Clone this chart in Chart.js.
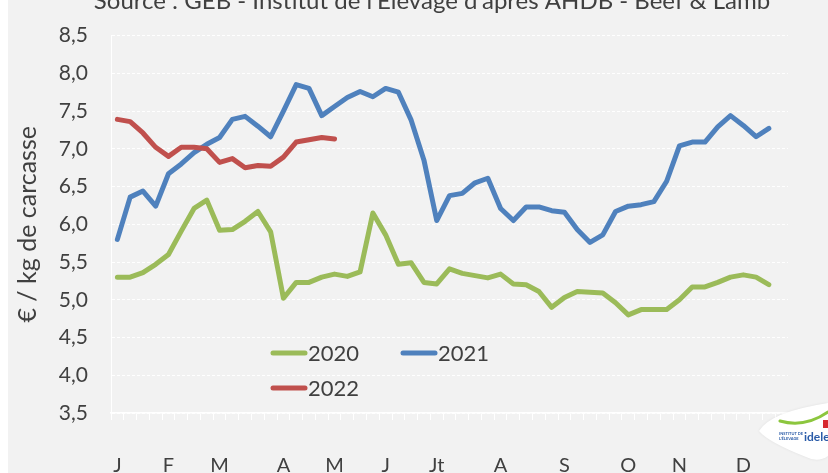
<!DOCTYPE html>
<html>
<head>
<meta charset="utf-8">
<script src="https://cdn.jsdelivr.net/npm/chart.js@4.4.0/dist/chart.umd.min.js"></script>
<style>
  html, body { margin: 0; padding: 0; background: #ffffff; }
  #wrap { position: relative; width: 828px; height: 473px; }
</style>
</head>
<body>
<div id="wrap"><canvas id="chart" width="828" height="473"></canvas></div>
<script>
// weekly prices, € / kg de carcasse
const weekCount = 53;
const monthLabels = ['J', 'F', 'M', 'A', 'M', 'J', 'Jt', 'A', 'S', 'O', 'N', 'D'];
const monthWeeks = [0, 4, 8, 13, 17, 21, 25, 30, 35, 40, 44, 49];
const yTicks = [3.5, 4.0, 4.5, 5.0, 5.5, 6.0, 6.5, 7.0, 7.5, 8.0, 8.5];

const prices2020 = [5.30, 5.30, 5.36, 5.47, 5.60, 5.91, 6.21, 6.32, 5.92, 5.93, 6.04, 6.17, 5.90,
    5.02, 5.23, 5.23, 5.30, 5.34, 5.31, 5.37, 6.15, 5.86, 5.47, 5.49, 5.23, 5.21,
    5.41, 5.35, 5.32, 5.29, 5.34, 5.21, 5.20, 5.11, 4.90, 5.03, 5.11, 5.10, 5.09,
    4.96, 4.80, 4.87, 4.87, 4.87, 5.00, 5.17, 5.17, 5.23, 5.30, 5.33, 5.30, 5.20];
const prices2021 = [5.80, 6.36, 6.44, 6.24, 6.67, 6.80, 6.95, 7.06, 7.15, 7.39, 7.43, 7.30, 7.16,
    7.50, 7.85, 7.80, 7.44, 7.56, 7.68, 7.76, 7.69, 7.80, 7.75, 7.38, 6.85, 6.05,
    6.38, 6.41, 6.55, 6.61, 6.21, 6.05, 6.23, 6.23, 6.18, 6.16, 5.93, 5.76, 5.86,
    6.17, 6.24, 6.26, 6.30, 6.57, 7.04, 7.09, 7.09, 7.29, 7.44, 7.31, 7.16, 7.27];
const prices2022 = [7.39, 7.36, 7.21, 7.02, 6.90, 7.02, 7.02, 7.00, 6.82, 6.87, 6.75, 6.78, 6.77,
    6.89, 7.09, 7.12, 7.15, 7.13];

const weekLabels = [];
for (let i = 0; i < weekCount; i++) {
    const m = monthWeeks.indexOf(i);
    weekLabels.push(m >= 0 ? monthLabels[m] : '');
}

const textColor = '#404040';
const fontFamily = 'Lato, "Open Sans", sans-serif';

const legendSlots = [
    { x: 273, y: 353 },
    { x: 403, y: 353 },
    { x: 273, y: 388 }
];

const decor = {
    id: 'decor',
    beforeDraw(chart) {
        const { ctx, width, height } = chart;
        ctx.save();
        ctx.fillStyle = '#ffffff';
        ctx.fillRect(0, 0, width, height);
        ctx.fillStyle = '#f2f2f2';
        ctx.fillRect(8, 0, width - 8, height);
        ctx.restore();
    },
    afterDraw(chart) {
        const { ctx } = chart;
        ctx.save();

        // source line, cut by the top edge as in the original
        ctx.fillStyle = textColor;
        ctx.font = '24px ' + fontFamily;
        ctx.textAlign = 'center';
        ctx.textBaseline = 'alphabetic';
        ctx.fillText("Source : GEB - Institut de l'Elevage d'après AHDB - Beef & Lamb", 432, 9);

        // legend inside the plot
        ctx.font = '22px ' + fontFamily;
        ctx.textAlign = 'left';
        ctx.textBaseline = 'middle';
        chart.data.datasets.forEach((ds, i) => {
            const s = legendSlots[i];
            ctx.strokeStyle = ds.borderColor;
            ctx.lineWidth = 5;
            ctx.lineCap = 'round';
            ctx.beginPath();
            ctx.moveTo(s.x, s.y);
            ctx.lineTo(s.x + 32, s.y);
            ctx.stroke();
            ctx.fillStyle = textColor;
            ctx.fillText(ds.label, s.x + 35, s.y + 1);
        });

        // idele logo, bottom right
        ctx.fillStyle = '#ffffff';
        ctx.shadowColor = 'rgba(0,0,0,0.08)';
        ctx.shadowBlur = 3;
        ctx.beginPath();
        ctx.moveTo(759, 431);
        ctx.quadraticCurveTo(770, 412, 828, 403);
        ctx.lineTo(828, 456);
        ctx.quadraticCurveTo(818, 463, 806, 457);
        ctx.quadraticCurveTo(768, 442, 759, 431);
        ctx.fill();
        ctx.shadowBlur = 0;
        ctx.shadowColor = 'transparent';
        ctx.strokeStyle = '#8cc63e';
        ctx.lineWidth = 3;
        ctx.beginPath();
        ctx.moveTo(780, 421);
        ctx.quadraticCurveTo(805, 428, 828, 412);
        ctx.stroke();
        ctx.fillStyle = '#d7282f';
        ctx.fillRect(823, 420, 5, 8);
        ctx.fillStyle = '#2a5ba8';
        ctx.font = 'bold 12px ' + fontFamily;
        ctx.fillText('idele', 804, 437);
        ctx.font = 'bold 4px ' + fontFamily;
        ctx.fillText('INSTITUT DE', 779, 434);
        ctx.fillText("L'ÉLEVAGE", 779, 439);
        ctx.restore();
    }
};

new Chart(document.getElementById('chart').getContext('2d'), {
    type: 'line',
    data: {
        labels: weekLabels,
        datasets: [
            { label: '2020', data: prices2020, borderColor: '#9bbb59', order: 3 },
            { label: '2021', data: prices2021, borderColor: '#4f81bd', order: 2 },
            { label: '2022', data: prices2022, borderColor: '#c0504d', order: 1 }
        ]
    },
    options: {
        responsive: false,
        animation: false,
        layout: { padding: { left: 8, top: 20, right: 40, bottom: 0 } },
        elements: {
            line: { borderWidth: 5, tension: 0, borderCapStyle: 'round', borderJoinStyle: 'round', fill: false },
            point: { radius: 0, hoverRadius: 0 }
        },
        plugins: {
            legend: { display: false },
            tooltip: { enabled: false },
            title: { display: false }
        },
        scales: {
            x: {
                type: 'category',
                offset: true,
                grid: { offset: true, drawOnChartArea: false, drawTicks: true, tickLength: 7, color: '#ffffff' },
                border: { display: true, color: '#ffffff', width: 1.5 },
                ticks: {
                    autoSkip: false, maxRotation: 0, minRotation: 0,
                    color: textColor, padding: 34,
                    font: { size: 20, family: fontFamily }
                },
                afterFit: (scale) => { scale.height = 60; }
            },
            y: {
                min: 3.5,
                max: 8.5,
                afterBuildTicks: (scale) => { scale.ticks = yTicks.map(v => ({ value: v })); },
                grid: { color: '#ffffff', drawTicks: false, lineWidth: 1 },
                border: { display: true, color: '#ffffff', dash: [3, 2] },
                ticks: {
                    color: textColor, padding: 23,
                    font: { size: 21, family: fontFamily },
                    callback: (v) => v.toFixed(1).replace('.', ',')
                },
                title: {
                    display: true,
                    text: '€ / kg de carcasse',
                    color: textColor,
                    font: { size: 25, family: fontFamily },
                    padding: { top: 5, bottom: 0 }
                },
                afterFit: (scale) => { scale.width = 103; }
            }
        }
    },
    plugins: [decor]
});
</script>
</body>
</html>
